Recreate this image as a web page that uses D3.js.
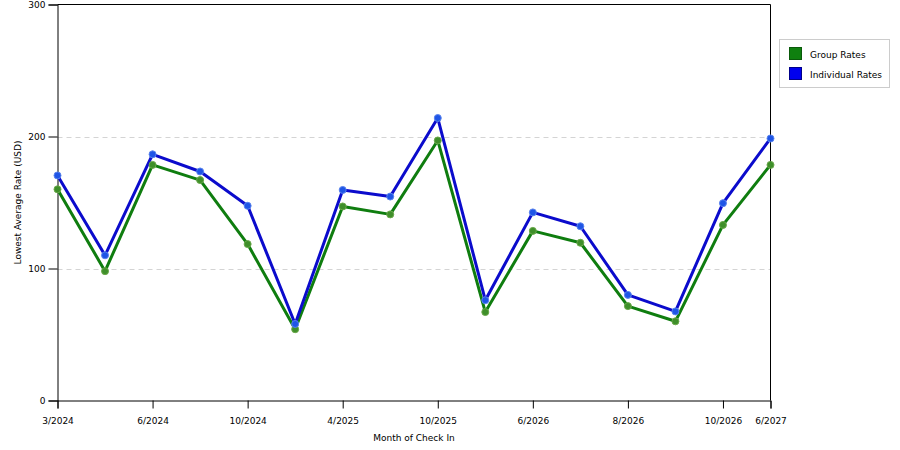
<!DOCTYPE html>
<html>
<head>
<meta charset="utf-8">
<script src="https://cdn.jsdelivr.net/npm/d3@7/dist/d3.min.js"></script>
<style>
  html, body { margin: 0; padding: 0; background: #fff; }
  svg { display: block; }
  text { font-family: "DejaVu Sans", Verdana, sans-serif; font-size: 9px; fill: #000; }
</style>
</head>
<body>
<svg id="chart" width="900" height="450"></svg>
<script>
// Data
const categories = ["3/2024","4/2024","6/2024","8/2024","10/2024","12/2024","4/2025","7/2025","10/2025","3/2026","6/2026","7/2026","8/2026","9/2026","10/2026","6/2027"];
const tickLabels = ["3/2024","6/2024","10/2024","4/2025","10/2025","6/2026","8/2026","10/2026","6/2027"];
const groupRates = [160, 98, 178.5, 167, 118.5, 54, 147, 141, 197, 67, 128.5, 119.5, 71.5, 60, 133, 178.5];
const individualRates = [170.5, 110, 186.5, 173.5, 147.5, 58, 159.5, 154.5, 214, 76, 142.5, 132, 80, 67.5, 149.5, 198.5];
const yTicks = [0, 100, 200, 300];
const seriesNames = ["Group Rates", "Individual Rates"];

const svg = d3.select("#chart");
const mLeft = 57.5, mRight = 770.5, mTop = 4.5, mBottom = 400.5;

const x = d3.scalePoint().domain(categories).range([mLeft, mRight]).padding(0);
const y = d3.scaleLinear().domain([0, 300]).range([mBottom, mTop]);

// gridlines
svg.append("g").selectAll("line").data(yTicks.filter(d => d > 0 && d < 300)).join("line")
  .attr("x1", mLeft).attr("x2", mRight)
  .attr("y1", d => Math.round(y(d)) + 0.5).attr("y2", d => Math.round(y(d)) + 0.5)
  .attr("stroke", "#d4d4d4").attr("stroke-dasharray", "5,4").attr("stroke-width", 1);

// frame (top and right)
svg.append("path")
  .attr("d", `M${mLeft},${mTop}H${mRight}V${mBottom}`)
  .attr("fill", "none").attr("stroke", "#000").attr("stroke-width", 1);

// y axis
const yAxis = d3.axisLeft(y).tickValues(yTicks).tickSize(9).tickPadding(3).tickFormat(d3.format("d"));
const gy = svg.append("g").attr("transform", `translate(${mLeft},0)`).call(yAxis);
gy.select(".domain").attr("stroke", "#000");
gy.selectAll(".tick line").attr("stroke", "#000");
gy.selectAll(".tick text").style("font-family", '"DejaVu Sans", sans-serif').style("font-size", "9px").attr("fill", "#000");

// x axis
const xAxis = d3.axisBottom(x).tickValues(tickLabels).tickSize(8).tickPadding(9);
const gx = svg.append("g").attr("transform", `translate(0,${mBottom})`).call(xAxis);
gx.select(".domain").attr("stroke", "#000");
gx.selectAll(".tick line").attr("stroke", "#000");
gx.selectAll(".tick text").style("font-family", '"DejaVu Sans", sans-serif').style("font-size", "9px").attr("fill", "#000");

// axis titles
svg.append("text").attr("x", (mLeft + mRight) / 2).attr("y", 441).attr("text-anchor", "middle").text("Month of Check In");
svg.append("text").attr("transform", `translate(21,${(mTop + mBottom) / 2}) rotate(-90)`).attr("text-anchor", "middle").text("Lowest Average Rate (USD)");

// series
const series = [
  { name: seriesNames[0], values: groupRates, line: "#0f7d0f", marker: "#3f8f2a", mstroke: "#6aa84a" },
  { name: seriesNames[1], values: individualRates, line: "#0b0bcc", marker: "#1f55e6", mstroke: "#5a84ee" }
];
const lineGen = d3.line().x((d, i) => x(categories[i])).y(d => y(d));

series.forEach(s => {
  svg.append("path").datum(s.values)
    .attr("d", lineGen).attr("fill", "none").attr("stroke", s.line).attr("stroke-width", 3)
    .attr("stroke-linejoin", "round");
});
series.forEach(s => {
  svg.append("g").selectAll("circle").data(s.values).join("circle")
    .attr("cx", (d, i) => x(categories[i])).attr("cy", d => y(d)).attr("r", 3.5)
    .attr("fill", s.marker).attr("stroke", s.mstroke).attr("stroke-width", 1);
});

// legend
const lg = svg.append("g");
lg.append("rect").attr("x", 779.5).attr("y", 39.5).attr("width", 110).attr("height", 48)
  .attr("fill", "#fff").attr("stroke", "#cccccc");
const swatch = [{ c: "#0f800f", s: "#0a5a0a" }, { c: "#0000ee", s: "#00008a" }];
seriesNames.forEach((n, i) => {
  lg.append("rect").attr("x", 789.5).attr("y", 47.5 + i * 20).attr("width", 12).attr("height", 12)
    .attr("fill", swatch[i].c).attr("stroke", swatch[i].s).attr("stroke-width", 1);
  lg.append("text").attr("x", 810).attr("y", 58 + i * 20).text(n);
});
</script>
</body>
</html>
